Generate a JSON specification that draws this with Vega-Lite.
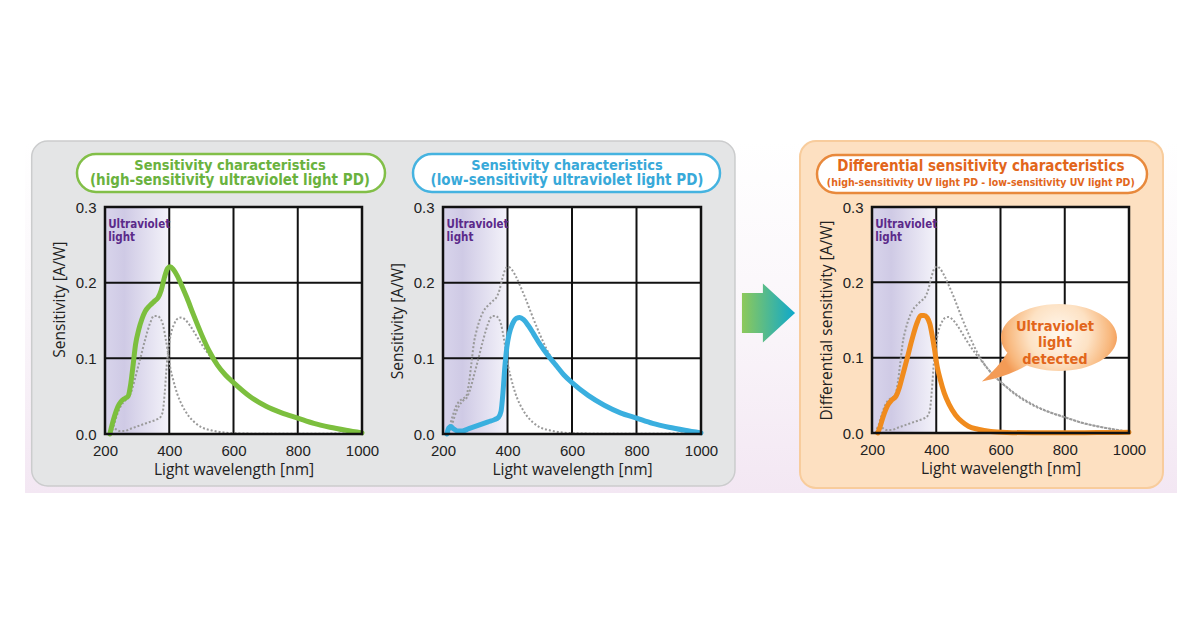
{
"$schema": "https://vega.github.io/schema/vega-lite/v6.json",
"background": "white",
"autosize": {"type": "pad"},
"padding": {"left": 25, "top": 140, "right": 0, "bottom": 0},
"config": {
  "view": {"stroke": null, "fill": null},
  "axis": {"domain": false, "ticks": false, "grid": false, "labelFont": "Liberation Sans", "labelFontSize": 15, "labelColor": "#222222", "titleFont": "Open Sans", "titleFontSize": 15.5, "titleFontWeight": "normal", "titleColor": "#222222", "labelOverlap": false}
},
"datasets": {
  "curves": [
    {"s":"high","wl":215,"v":0},{"s":"high","wl":222,"v":0.012},{"s":"high","wl":230,"v":0.024},{"s":"high","wl":240,"v":0.036},{"s":"high","wl":250,"v":0.043},{"s":"high","wl":262,"v":0.047},{"s":"high","wl":272,"v":0.05},{"s":"high","wl":280,"v":0.066},{"s":"high","wl":288,"v":0.093},{"s":"high","wl":295,"v":0.118},{"s":"high","wl":305,"v":0.138},{"s":"high","wl":315,"v":0.152},{"s":"high","wl":325,"v":0.162},{"s":"high","wl":340,"v":0.17},{"s":"high","wl":355,"v":0.176},{"s":"high","wl":365,"v":0.18},{"s":"high","wl":375,"v":0.19},{"s":"high","wl":385,"v":0.207},{"s":"high","wl":395,"v":0.219},{"s":"high","wl":403,"v":0.221},{"s":"high","wl":412,"v":0.218},{"s":"high","wl":425,"v":0.209},{"s":"high","wl":440,"v":0.195},{"s":"high","wl":455,"v":0.18},{"s":"high","wl":475,"v":0.158},{"s":"high","wl":500,"v":0.132},{"s":"high","wl":525,"v":0.109},{"s":"high","wl":550,"v":0.091},{"s":"high","wl":575,"v":0.078},{"s":"high","wl":600,"v":0.068},{"s":"high","wl":650,"v":0.05},{"s":"high","wl":700,"v":0.037},{"s":"high","wl":750,"v":0.028},{"s":"high","wl":800,"v":0.021},{"s":"high","wl":850,"v":0.014},{"s":"high","wl":900,"v":0.009},{"s":"high","wl":950,"v":0.005},{"s":"high","wl":1000,"v":0.0015},
    {"s":"low","wl":212,"v":0},{"s":"low","wl":218,"v":0.008},{"s":"low","wl":224,"v":0.01},{"s":"low","wl":232,"v":0.007},{"s":"low","wl":245,"v":0.004},{"s":"low","wl":260,"v":0.004},{"s":"low","wl":280,"v":0.007},{"s":"low","wl":300,"v":0.01},{"s":"low","wl":320,"v":0.013},{"s":"low","wl":340,"v":0.016},{"s":"low","wl":360,"v":0.019},{"s":"low","wl":372,"v":0.022},{"s":"low","wl":380,"v":0.03},{"s":"low","wl":386,"v":0.055},{"s":"low","wl":392,"v":0.09},{"s":"low","wl":398,"v":0.115},{"s":"low","wl":405,"v":0.132},{"s":"low","wl":415,"v":0.145},{"s":"low","wl":428,"v":0.153},{"s":"low","wl":438,"v":0.154},{"s":"low","wl":450,"v":0.151},{"s":"low","wl":465,"v":0.143},{"s":"low","wl":480,"v":0.133},{"s":"low","wl":500,"v":0.119},{"s":"low","wl":525,"v":0.104},{"s":"low","wl":550,"v":0.091},{"s":"low","wl":575,"v":0.078},{"s":"low","wl":600,"v":0.068},{"s":"low","wl":650,"v":0.051},{"s":"low","wl":700,"v":0.038},{"s":"low","wl":750,"v":0.028},{"s":"low","wl":800,"v":0.021},{"s":"low","wl":850,"v":0.014},{"s":"low","wl":900,"v":0.009},{"s":"low","wl":950,"v":0.005},{"s":"low","wl":1000,"v":0.0015},
    {"s":"diff","wl":218,"v":0},{"s":"diff","wl":225,"v":0.008},{"s":"diff","wl":235,"v":0.022},{"s":"diff","wl":248,"v":0.036},{"s":"diff","wl":262,"v":0.044},{"s":"diff","wl":275,"v":0.049},{"s":"diff","wl":285,"v":0.06},{"s":"diff","wl":295,"v":0.076},{"s":"diff","wl":310,"v":0.1},{"s":"diff","wl":325,"v":0.125},{"s":"diff","wl":340,"v":0.146},{"s":"diff","wl":352,"v":0.156},{"s":"diff","wl":362,"v":0.156},{"s":"diff","wl":372,"v":0.153},{"s":"diff","wl":380,"v":0.145},{"s":"diff","wl":388,"v":0.128},{"s":"diff","wl":395,"v":0.11},{"s":"diff","wl":403,"v":0.088},{"s":"diff","wl":412,"v":0.072},{"s":"diff","wl":425,"v":0.053},{"s":"diff","wl":440,"v":0.038},{"s":"diff","wl":460,"v":0.024},{"s":"diff","wl":480,"v":0.015},{"s":"diff","wl":500,"v":0.009},{"s":"diff","wl":530,"v":0.005},{"s":"diff","wl":570,"v":0.002},{"s":"diff","wl":620,"v":0.0008},{"s":"diff","wl":700,"v":0.0003},{"s":"diff","wl":800,"v":0.0003},{"s":"diff","wl":900,"v":0.0005},{"s":"diff","wl":1000,"v":0.001}
  ]
},
"bounds": "flush",
"spacing": 81,
"hconcat": [
   {
    "width": 257, "height": 227,
    "layer": [
     {"data": {"values": [{}]}, "mark": {"type": "rect", "clip": false, "fill": {"gradient": "linear", "x1": 0, "y1": 0, "x2": 0, "y2": 1, "stops": [{"offset": 0, "color": "#ffffff"}, {"offset": 0.5, "color": "#faf6fa"}, {"offset": 1, "color": "#f3e7f3"}]}},
      "encoding": {"x": {"datum": -49, "type": "quantitative", "scale": {"domain": [200, 1000], "nice": false, "zero": false}}, "x2": {"datum": 3537}, "y": {"datum": 0.3872, "type": "quantitative", "scale": {"domain": [0, 0.3], "nice": false, "zero": false}}, "y2": {"datum": -0.078}}},
     {"data": {"values": [{}]}, "mark": {"type": "rect", "clip": false, "cornerRadius": 16, "fill": "#e4e5e6", "stroke": "#cbcccd", "strokeWidth": 1.5},
      "encoding": {"x": {"datum": -28.2, "type": "quantitative", "scale": {"domain": [200, 1000], "nice": false, "zero": false}}, "x2": {"datum": 2161}, "y": {"datum": 0.3872, "type": "quantitative", "scale": {"domain": [0, 0.3], "nice": false, "zero": false}}, "y2": {"datum": -0.0687}}},
     {"data": {"values": [{}]}, "mark": {"type": "rect", "clip": false, "cornerRadius": 19, "fill": "#ffffff", "stroke": "#82bf48", "strokeWidth": 2.5},
      "encoding": {"x": {"datum": 112.8, "type": "quantitative", "scale": {"domain": [200, 1000], "nice": false, "zero": false}}, "x2": {"datum": 1071.6}, "y": {"datum": 0.37, "type": "quantitative", "scale": {"domain": [0, 0.3], "nice": false, "zero": false}}, "y2": {"datum": 0.3198}}},
     {"data": {"values": [{}]}, "mark": {"type": "text", "clip": false, "text": "Sensitivity characteristics", "font": "DejaVu Sans Condensed", "fontWeight": "bold", "fontSize": 14.5, "color": "#6ab23e", "align": "center", "baseline": "alphabetic"},
      "encoding": {"x": {"datum": 589, "type": "quantitative", "scale": {"domain": [200, 1000], "nice": false, "zero": false}}, "y": {"datum": 0.349, "type": "quantitative", "scale": {"domain": [0, 0.3], "nice": false, "zero": false}}}},
     {"data": {"values": [{}]}, "mark": {"type": "text", "clip": false, "text": "(high-sensitivity ultraviolet light PD)", "font": "DejaVu Sans Condensed", "fontWeight": "bold", "fontSize": 15, "color": "#6ab23e", "align": "center", "baseline": "alphabetic"},
      "encoding": {"x": {"datum": 589, "type": "quantitative", "scale": {"domain": [200, 1000], "nice": false, "zero": false}}, "y": {"datum": 0.3295, "type": "quantitative", "scale": {"domain": [0, 0.3], "nice": false, "zero": false}}}},
     {"data": {"values": [{}]}, "mark": {"type": "rect", "fill": "#ffffff"},
      "encoding": {"x": {"datum": 200, "type": "quantitative", "scale": {"domain": [200, 1000], "nice": false, "zero": false}}, "x2": {"datum": 1000}, "y": {"datum": 0, "type": "quantitative", "scale": {"domain": [0, 0.3], "nice": false, "zero": false}}, "y2": {"datum": 0.3}}},
     {"data": {"values": [{}]}, "mark": {"type": "rect", "fill": {"gradient": "linear", "x1": 0, "y1": 0, "x2": 1, "y2": 0, "stops": [{"offset": 0, "color": "#d8d4eb"}, {"offset": 0.3, "color": "#cfcae5"}, {"offset": 1, "color": "#f4f3fa"}]}},
      "encoding": {"x": {"datum": 200, "type": "quantitative", "scale": {"domain": [200, 1000], "nice": false, "zero": false}}, "x2": {"datum": 400}, "y": {"datum": 0, "type": "quantitative", "scale": {"domain": [0, 0.3], "nice": false, "zero": false}}, "y2": {"datum": 0.3}}},
     {"data": {"values": [{}]}, "mark": {"type": "rule", "color": "#111111", "strokeWidth": 2},
      "encoding": {"x": {"datum": 400, "type": "quantitative", "scale": {"domain": [200, 1000], "nice": false, "zero": false}}, "y": {"datum": 0, "type": "quantitative", "scale": {"domain": [0, 0.3], "nice": false, "zero": false}}, "y2": {"datum": 0.3}}},
     {"data": {"values": [{}]}, "mark": {"type": "rule", "color": "#111111", "strokeWidth": 2},
      "encoding": {"x": {"datum": 600, "type": "quantitative", "scale": {"domain": [200, 1000], "nice": false, "zero": false}}, "y": {"datum": 0, "type": "quantitative", "scale": {"domain": [0, 0.3], "nice": false, "zero": false}}, "y2": {"datum": 0.3}}},
     {"data": {"values": [{}]}, "mark": {"type": "rule", "color": "#111111", "strokeWidth": 2},
      "encoding": {"x": {"datum": 800, "type": "quantitative", "scale": {"domain": [200, 1000], "nice": false, "zero": false}}, "y": {"datum": 0, "type": "quantitative", "scale": {"domain": [0, 0.3], "nice": false, "zero": false}}, "y2": {"datum": 0.3}}},
     {"data": {"values": [{}]}, "mark": {"type": "rule", "color": "#111111", "strokeWidth": 2},
      "encoding": {"y": {"datum": 0.1, "type": "quantitative", "scale": {"domain": [0, 0.3], "nice": false, "zero": false}}, "x": {"datum": 200, "type": "quantitative", "scale": {"domain": [200, 1000], "nice": false, "zero": false}}, "x2": {"datum": 1000}}},
     {"data": {"values": [{}]}, "mark": {"type": "rule", "color": "#111111", "strokeWidth": 2},
      "encoding": {"y": {"datum": 0.2, "type": "quantitative", "scale": {"domain": [0, 0.3], "nice": false, "zero": false}}, "x": {"datum": 200, "type": "quantitative", "scale": {"domain": [200, 1000], "nice": false, "zero": false}}, "x2": {"datum": 1000}}},
     {"data": {"name": "curves"}, "transform": [{"filter": "datum.s != 'high'"}],
      "mark": {"type": "line", "interpolate": "monotone", "color": "#9a9a9a", "strokeWidth": 2, "strokeDash": [2, 2]},
      "encoding": {
        "x": {"field": "wl", "type": "quantitative", "scale": {"domain": [200, 1000], "nice": false, "zero": false}, "axis": {"zindex": 2, "values": [200, 400, 600, 800, 1000], "format": "d", "title": "Light wavelength [nm]", "labelPadding": 9, "titlePadding": 4, "labelFlush": false}},
        "y": {"field": "v", "type": "quantitative", "scale": {"domain": [0, 0.3], "nice": false, "zero": false}, "axis": {"zindex": 2, "values": [0, 0.1, 0.2, 0.3], "format": ".1f", "title": "Sensitivity [A/W]", "labelPadding": 9, "titlePadding": 8, "titleY": 92}},
        "detail": {"field": "s"}}},
     {"data": {"name": "curves"}, "transform": [{"filter": "datum.s == 'high'"}],
      "mark": {"type": "line", "interpolate": "monotone", "color": "#7cbf3e", "strokeWidth": 5, "strokeCap": "round"},
      "encoding": {
        "x": {"field": "wl", "type": "quantitative", "scale": {"domain": [200, 1000], "nice": false, "zero": false}},
        "y": {"field": "v", "type": "quantitative", "scale": {"domain": [0, 0.3], "nice": false, "zero": false}}}},
     {"data": {"values": [{}]}, "mark": {"type": "rect", "clip": false, "fillOpacity": 0, "stroke": "#111111", "strokeWidth": 2.5},
      "encoding": {"x": {"datum": 200, "type": "quantitative", "scale": {"domain": [200, 1000], "nice": false, "zero": false}}, "x2": {"datum": 1000}, "y": {"datum": 0, "type": "quantitative", "scale": {"domain": [0, 0.3], "nice": false, "zero": false}}, "y2": {"datum": 0.3}}},
     {"data": {"values": [{}]}, "mark": {"type": "text", "clip": false, "text": ["Ultraviolet", "light"], "lineHeight": 13.5, "font": "DejaVu Sans Condensed", "fontWeight": "bold", "fontSize": 11.5, "color": "#5b2a8a", "align": "left", "baseline": "alphabetic"},
      "encoding": {"x": {"datum": 210, "type": "quantitative", "scale": {"domain": [200, 1000], "nice": false, "zero": false}}, "y": {"datum": 0.2726, "type": "quantitative", "scale": {"domain": [0, 0.3], "nice": false, "zero": false}}}}
    ]
   },
   {
    "width": 258, "height": 227,
    "layer": [
     {"data": {"values": [{}]}, "mark": {"type": "rect", "clip": false, "cornerRadius": 19, "fill": "#ffffff", "stroke": "#45b3e0", "strokeWidth": 2.5},
      "encoding": {"x": {"datum": 107, "type": "quantitative", "scale": {"domain": [200, 1000], "nice": false, "zero": false}}, "x2": {"datum": 1058.9}, "y": {"datum": 0.37, "type": "quantitative", "scale": {"domain": [0, 0.3], "nice": false, "zero": false}}, "y2": {"datum": 0.3198}}},
     {"data": {"values": [{}]}, "mark": {"type": "text", "clip": false, "text": "Sensitivity characteristics", "font": "DejaVu Sans Condensed", "fontWeight": "bold", "fontSize": 14.5, "color": "#38a9d9", "align": "center", "baseline": "alphabetic"},
      "encoding": {"x": {"datum": 584.5, "type": "quantitative", "scale": {"domain": [200, 1000], "nice": false, "zero": false}}, "y": {"datum": 0.349, "type": "quantitative", "scale": {"domain": [0, 0.3], "nice": false, "zero": false}}}},
     {"data": {"values": [{}]}, "mark": {"type": "text", "clip": false, "text": "(low-sensitivity ultraviolet light PD)", "font": "DejaVu Sans Condensed", "fontWeight": "bold", "fontSize": 15, "color": "#38a9d9", "align": "center", "baseline": "alphabetic"},
      "encoding": {"x": {"datum": 584.5, "type": "quantitative", "scale": {"domain": [200, 1000], "nice": false, "zero": false}}, "y": {"datum": 0.3295, "type": "quantitative", "scale": {"domain": [0, 0.3], "nice": false, "zero": false}}}},
     {"data": {"values": [{}]}, "mark": {"type": "rect", "fill": "#ffffff"},
      "encoding": {"x": {"datum": 200, "type": "quantitative", "scale": {"domain": [200, 1000], "nice": false, "zero": false}}, "x2": {"datum": 1000}, "y": {"datum": 0, "type": "quantitative", "scale": {"domain": [0, 0.3], "nice": false, "zero": false}}, "y2": {"datum": 0.3}}},
     {"data": {"values": [{}]}, "mark": {"type": "rect", "fill": {"gradient": "linear", "x1": 0, "y1": 0, "x2": 1, "y2": 0, "stops": [{"offset": 0, "color": "#d8d4eb"}, {"offset": 0.3, "color": "#cfcae5"}, {"offset": 1, "color": "#f4f3fa"}]}},
      "encoding": {"x": {"datum": 200, "type": "quantitative", "scale": {"domain": [200, 1000], "nice": false, "zero": false}}, "x2": {"datum": 400}, "y": {"datum": 0, "type": "quantitative", "scale": {"domain": [0, 0.3], "nice": false, "zero": false}}, "y2": {"datum": 0.3}}},
     {"data": {"values": [{}]}, "mark": {"type": "rule", "color": "#111111", "strokeWidth": 2},
      "encoding": {"x": {"datum": 400, "type": "quantitative", "scale": {"domain": [200, 1000], "nice": false, "zero": false}}, "y": {"datum": 0, "type": "quantitative", "scale": {"domain": [0, 0.3], "nice": false, "zero": false}}, "y2": {"datum": 0.3}}},
     {"data": {"values": [{}]}, "mark": {"type": "rule", "color": "#111111", "strokeWidth": 2},
      "encoding": {"x": {"datum": 600, "type": "quantitative", "scale": {"domain": [200, 1000], "nice": false, "zero": false}}, "y": {"datum": 0, "type": "quantitative", "scale": {"domain": [0, 0.3], "nice": false, "zero": false}}, "y2": {"datum": 0.3}}},
     {"data": {"values": [{}]}, "mark": {"type": "rule", "color": "#111111", "strokeWidth": 2},
      "encoding": {"x": {"datum": 800, "type": "quantitative", "scale": {"domain": [200, 1000], "nice": false, "zero": false}}, "y": {"datum": 0, "type": "quantitative", "scale": {"domain": [0, 0.3], "nice": false, "zero": false}}, "y2": {"datum": 0.3}}},
     {"data": {"values": [{}]}, "mark": {"type": "rule", "color": "#111111", "strokeWidth": 2},
      "encoding": {"y": {"datum": 0.1, "type": "quantitative", "scale": {"domain": [0, 0.3], "nice": false, "zero": false}}, "x": {"datum": 200, "type": "quantitative", "scale": {"domain": [200, 1000], "nice": false, "zero": false}}, "x2": {"datum": 1000}}},
     {"data": {"values": [{}]}, "mark": {"type": "rule", "color": "#111111", "strokeWidth": 2},
      "encoding": {"y": {"datum": 0.2, "type": "quantitative", "scale": {"domain": [0, 0.3], "nice": false, "zero": false}}, "x": {"datum": 200, "type": "quantitative", "scale": {"domain": [200, 1000], "nice": false, "zero": false}}, "x2": {"datum": 1000}}},
     {"data": {"name": "curves"}, "transform": [{"filter": "datum.s != 'low'"}],
      "mark": {"type": "line", "interpolate": "monotone", "color": "#9a9a9a", "strokeWidth": 2, "strokeDash": [2, 2]},
      "encoding": {
        "x": {"field": "wl", "type": "quantitative", "scale": {"domain": [200, 1000], "nice": false, "zero": false}, "axis": {"zindex": 2, "values": [200, 400, 600, 800, 1000], "format": "d", "title": "Light wavelength [nm]", "labelPadding": 9, "titlePadding": 4, "labelFlush": false}},
        "y": {"field": "v", "type": "quantitative", "scale": {"domain": [0, 0.3], "nice": false, "zero": false}, "axis": {"zindex": 2, "values": [0, 0.1, 0.2, 0.3], "format": ".1f", "title": "Sensitivity [A/W]", "labelPadding": 9, "titlePadding": 8}},
        "detail": {"field": "s"}}},
     {"data": {"name": "curves"}, "transform": [{"filter": "datum.s == 'low'"}],
      "mark": {"type": "line", "interpolate": "monotone", "color": "#3aafdf", "strokeWidth": 5, "strokeCap": "round"},
      "encoding": {
        "x": {"field": "wl", "type": "quantitative", "scale": {"domain": [200, 1000], "nice": false, "zero": false}},
        "y": {"field": "v", "type": "quantitative", "scale": {"domain": [0, 0.3], "nice": false, "zero": false}}}},
     {"data": {"values": [{}]}, "mark": {"type": "rect", "clip": false, "fillOpacity": 0, "stroke": "#111111", "strokeWidth": 2.5},
      "encoding": {"x": {"datum": 200, "type": "quantitative", "scale": {"domain": [200, 1000], "nice": false, "zero": false}}, "x2": {"datum": 1000}, "y": {"datum": 0, "type": "quantitative", "scale": {"domain": [0, 0.3], "nice": false, "zero": false}}, "y2": {"datum": 0.3}}},
     {"data": {"values": [{}]}, "mark": {"type": "text", "clip": false, "text": ["Ultraviolet", "light"], "lineHeight": 13.5, "font": "DejaVu Sans Condensed", "fontWeight": "bold", "fontSize": 11.5, "color": "#5b2a8a", "align": "left", "baseline": "alphabetic"},
      "encoding": {"x": {"datum": 211, "type": "quantitative", "scale": {"domain": [200, 1000], "nice": false, "zero": false}}, "y": {"datum": 0.2726, "type": "quantitative", "scale": {"domain": [0, 0.3], "nice": false, "zero": false}}}}
    ]
   },
   {
    "width": 9, "height": 227,
    "data": {"values": [{}]},
    "mark": {"type": "point", "opacity": 0}
   },
 {
  "width": 257, "height": 226,
  "layer": [
   {"data": {"values": [{}]}, "mark": {"type": "rect", "clip": false, "cornerRadius": 16, "fill": "#fde0c1", "stroke": "#f8cc9c", "strokeWidth": 2},
    "encoding": {"x": {"datum": -24.1, "type": "quantitative", "scale": {"domain": [200, 1000], "nice": false, "zero": false}}, "x2": {"datum": 1105.8}, "y": {"datum": 0.3876, "type": "quantitative", "scale": {"domain": [0, 0.3], "nice": false, "zero": false}}, "y2": {"datum": -0.073}}},
   {"data": {"values": [{}]}, "mark": {"type": "point", "clip": false, "shape": "M -0.9 -0.68 L -0.19 -0.68 L -0.19 -1 L 0.9 0 L -0.19 1 L -0.19 0.68 L -0.9 0.68 Z", "size": 3481, "filled": true, "opacity": 1, "strokeWidth": 0, "fill": {"gradient": "linear", "x1": 0, "y1": 0, "x2": 1, "y2": 0, "stops": [{"offset": 0, "color": "#8dc95a"}, {"offset": 1, "color": "#0ea8cc"}]}},
    "encoding": {"x": {"datum": -122.2, "type": "quantitative", "scale": {"domain": [200, 1000], "nice": false, "zero": false}}, "y": {"datum": 0.1593, "type": "quantitative", "scale": {"domain": [0, 0.3], "nice": false, "zero": false}}}},
   {"data": {"values": [{}]}, "mark": {"type": "rect", "clip": false, "cornerRadius": 19, "fill": "#ffffff", "stroke": "#e8893c", "strokeWidth": 2.5},
    "encoding": {"x": {"datum": 28.8, "type": "quantitative", "scale": {"domain": [200, 1000], "nice": false, "zero": false}}, "x2": {"datum": 1056}, "y": {"datum": 0.369, "type": "quantitative", "scale": {"domain": [0, 0.3], "nice": false, "zero": false}}, "y2": {"datum": 0.3186}}},
   {"data": {"values": [{}]}, "mark": {"type": "text", "clip": false, "text": "Differential sensitivity characteristics", "font": "DejaVu Sans Condensed", "fontWeight": "bold", "fontSize": 15, "color": "#e2661b", "align": "center", "baseline": "alphabetic"},
    "encoding": {"x": {"datum": 538.7, "type": "quantitative", "scale": {"domain": [200, 1000], "nice": false, "zero": false}}, "y": {"datum": 0.3475, "type": "quantitative", "scale": {"domain": [0, 0.3], "nice": false, "zero": false}}}},
   {"data": {"values": [{}]}, "mark": {"type": "text", "clip": false, "text": "(high-sensitivity UV light PD - low-sensitivity UV light PD)", "font": "DejaVu Sans Condensed", "fontWeight": "bold", "fontSize": 10.5, "color": "#e2661b", "align": "center", "baseline": "alphabetic"},
    "encoding": {"x": {"datum": 538.7, "type": "quantitative", "scale": {"domain": [200, 1000], "nice": false, "zero": false}}, "y": {"datum": 0.3275, "type": "quantitative", "scale": {"domain": [0, 0.3], "nice": false, "zero": false}}}},
   {"data": {"values": [{}]}, "mark": {"type": "rect", "fill": "#ffffff"},
    "encoding": {"x": {"datum": 200, "type": "quantitative", "scale": {"domain": [200, 1000], "nice": false, "zero": false}}, "x2": {"datum": 1000}, "y": {"datum": 0, "type": "quantitative", "scale": {"domain": [0, 0.3], "nice": false, "zero": false}}, "y2": {"datum": 0.3}}},
   {"data": {"values": [{}]}, "mark": {"type": "rect", "fill": {"gradient": "linear", "x1": 0, "y1": 0, "x2": 1, "y2": 0, "stops": [{"offset": 0, "color": "#d8d4eb"}, {"offset": 0.3, "color": "#cfcae5"}, {"offset": 1, "color": "#f4f3fa"}]}},
    "encoding": {"x": {"datum": 200, "type": "quantitative", "scale": {"domain": [200, 1000], "nice": false, "zero": false}}, "x2": {"datum": 400}, "y": {"datum": 0, "type": "quantitative", "scale": {"domain": [0, 0.3], "nice": false, "zero": false}}, "y2": {"datum": 0.3}}},
   {"data": {"values": [{}]}, "mark": {"type": "rule", "color": "#111111", "strokeWidth": 2},
    "encoding": {"x": {"datum": 400, "type": "quantitative", "scale": {"domain": [200, 1000], "nice": false, "zero": false}}, "y": {"datum": 0, "type": "quantitative", "scale": {"domain": [0, 0.3], "nice": false, "zero": false}}, "y2": {"datum": 0.3}}},
   {"data": {"values": [{}]}, "mark": {"type": "rule", "color": "#111111", "strokeWidth": 2},
    "encoding": {"x": {"datum": 600, "type": "quantitative", "scale": {"domain": [200, 1000], "nice": false, "zero": false}}, "y": {"datum": 0, "type": "quantitative", "scale": {"domain": [0, 0.3], "nice": false, "zero": false}}, "y2": {"datum": 0.3}}},
   {"data": {"values": [{}]}, "mark": {"type": "rule", "color": "#111111", "strokeWidth": 2},
    "encoding": {"x": {"datum": 800, "type": "quantitative", "scale": {"domain": [200, 1000], "nice": false, "zero": false}}, "y": {"datum": 0, "type": "quantitative", "scale": {"domain": [0, 0.3], "nice": false, "zero": false}}, "y2": {"datum": 0.3}}},
   {"data": {"values": [{}]}, "mark": {"type": "rule", "color": "#111111", "strokeWidth": 2},
    "encoding": {"y": {"datum": 0.1, "type": "quantitative", "scale": {"domain": [0, 0.3], "nice": false, "zero": false}}, "x": {"datum": 200, "type": "quantitative", "scale": {"domain": [200, 1000], "nice": false, "zero": false}}, "x2": {"datum": 1000}}},
   {"data": {"values": [{}]}, "mark": {"type": "rule", "color": "#111111", "strokeWidth": 2},
    "encoding": {"y": {"datum": 0.2, "type": "quantitative", "scale": {"domain": [0, 0.3], "nice": false, "zero": false}}, "x": {"datum": 200, "type": "quantitative", "scale": {"domain": [200, 1000], "nice": false, "zero": false}}, "x2": {"datum": 1000}}},
   {"data": {"name": "curves"}, "transform": [{"filter": "datum.s != 'diff'"}],
    "mark": {"type": "line", "interpolate": "monotone", "color": "#9a9a9a", "strokeWidth": 2, "strokeDash": [2, 2]},
    "encoding": {
      "x": {"field": "wl", "type": "quantitative", "scale": {"domain": [200, 1000], "nice": false, "zero": false}, "axis": {"zindex": 2, "values": [200, 400, 600, 800, 1000], "format": "d", "title": "Light wavelength [nm]", "labelPadding": 9, "titlePadding": 4, "labelFlush": false}},
      "y": {"field": "v", "type": "quantitative", "scale": {"domain": [0, 0.3], "nice": false, "zero": false}, "axis": {"zindex": 2, "values": [0, 0.1, 0.2, 0.3], "format": ".1f", "title": "Differential sensitivity [A/W]", "labelPadding": 9, "titlePadding": 8}},
      "detail": {"field": "s"}}},
   {"data": {"name": "curves"}, "transform": [{"filter": "datum.s == 'diff'"}],
    "mark": {"type": "line", "interpolate": "monotone", "color": "#f08b1d", "strokeWidth": 5, "strokeCap": "round"},
    "encoding": {
      "x": {"field": "wl", "type": "quantitative", "scale": {"domain": [200, 1000], "nice": false, "zero": false}},
      "y": {"field": "v", "type": "quantitative", "scale": {"domain": [0, 0.3], "nice": false, "zero": false}}}},
   {"data": {"values": [{}]}, "mark": {"type": "rect", "clip": false, "fillOpacity": 0, "stroke": "#111111", "strokeWidth": 2.5},
    "encoding": {"x": {"datum": 200, "type": "quantitative", "scale": {"domain": [200, 1000], "nice": false, "zero": false}}, "x2": {"datum": 1000}, "y": {"datum": 0, "type": "quantitative", "scale": {"domain": [0, 0.3], "nice": false, "zero": false}}, "y2": {"datum": 0.3}}},
   {"data": {"values": [{}]}, "mark": {"type": "text", "clip": false, "text": ["Ultraviolet", "light"], "lineHeight": 13.5, "font": "DejaVu Sans Condensed", "fontWeight": "bold", "fontSize": 11.5, "color": "#5b2a8a", "align": "left", "baseline": "alphabetic"},
    "encoding": {"x": {"datum": 210, "type": "quantitative", "scale": {"domain": [200, 1000], "nice": false, "zero": false}}, "y": {"datum": 0.2726, "type": "quantitative", "scale": {"domain": [0, 0.3], "nice": false, "zero": false}}}},
   {"data": {"values": [{}]}, "mark": {"type": "point", "clip": false, "shape": "M -1 0 A 1 0.578 0 1 1 1 0 A 1 0.578 0 1 1 -1 0 Z M -0.55 0.48 Q -0.9 0.68 -1.33 0.76 Q -1.05 0.52 -0.88 0.25 Z", "size": 13456, "filled": true, "opacity": 1, "strokeWidth": 0, "fill": {"gradient": "radial", "x1": 0.57, "y1": 0.43, "r1": 0, "x2": 0.57, "y2": 0.43, "r2": 0.45, "stops": [{"offset": 0, "color": "#fff8ef"}, {"offset": 0.5, "color": "#fde2c4"}, {"offset": 0.85, "color": "#f8b77c"}, {"offset": 1, "color": "#f39b56"}]}},
    "encoding": {"x": {"datum": 782.1, "type": "quantitative", "scale": {"domain": [200, 1000], "nice": false, "zero": false}}, "y": {"datum": 0.1268, "type": "quantitative", "scale": {"domain": [0, 0.3], "nice": false, "zero": false}}}},
   {"data": {"values": [{}]}, "mark": {"type": "text", "clip": false, "text": ["Ultraviolet", "light", "detected"], "lineHeight": 16.5, "font": "DejaVu Sans Condensed", "fontWeight": "bold", "fontSize": 14.5, "color": "#e2661b", "align": "center", "baseline": "alphabetic"},
    "encoding": {"x": {"datum": 769.6, "type": "quantitative", "scale": {"domain": [200, 1000], "nice": false, "zero": false}}, "y": {"datum": 0.1354, "type": "quantitative", "scale": {"domain": [0, 0.3], "nice": false, "zero": false}}}}
  ]
 }
]
}
